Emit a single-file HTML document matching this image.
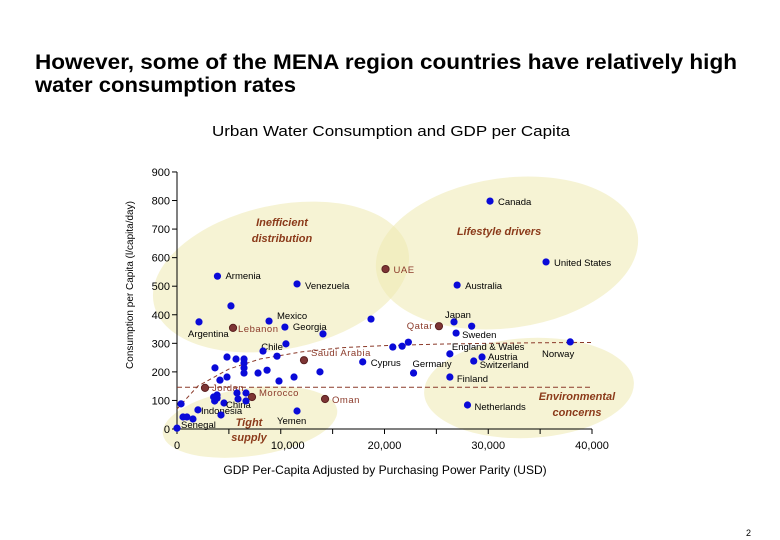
<!DOCTYPE html>
<html><head><meta charset="utf-8">
<style>
body{margin:0;background:#fff;}
svg{display:block;font-family:"Liberation Sans",Arial,sans-serif;}
</style></head>
<body>
<svg id="chart" width="780" height="540" viewBox="0 0 780 540">
<text x="35" y="69" font-size="21" font-weight="bold" textLength="702" lengthAdjust="spacingAndGlyphs">However, some of the MENA region countries have relatively high</text>
<text x="35" y="92" font-size="21" font-weight="bold" textLength="261" lengthAdjust="spacingAndGlyphs">water consumption rates</text>
<text x="212" y="136" font-size="15" textLength="358" lengthAdjust="spacingAndGlyphs">Urban Water Consumption and GDP per Capita</text>
<g id="zones"></g>
<g id="axes"></g>
<g id="marks"></g>
<text x="746" y="536" font-size="9">2</text>
</svg>
<script>
const names=["Canada","United States","Australia","UAE","Japan","","Qatar","Sweden","Norway","England & Wales","Austria","Switzerland","Finland","Netherlands","Germany","Cyprus","","","","","Armenia","Venezuela","","Argentina","Mexico","Lebanon","Georgia","","Chile","","","Saudi Arabia","","","","","","","","","","","","","","Jordan","Morocco","Oman","","","","","","","","","China","Indonesia","","","","","","","Yemen","Senegal"];
const gdp=[30170,35570,27000,20100,26700,28400,25250,26900,37900,26300,29400,28600,26300,28000,22800,17900,20800,21700,22300,18700,3900,11570,5200,2120,8870,5400,10400,14070,10500,8290,9640,12240,4820,5690,6460,6460,6460,6460,3660,7810,8680,13780,9830,11280,4820,2700,7230,14270,4140,6650,5780,5880,3860,3530,3630,3860,4530,2020,6650,4240,390,580,960,1540,11570,0];
const water=[798,585,504,560,375,360,360,336,305,263,252,238,182,84,196,235,287,290,304,385,535,508,431,375,378,354,357,333,298,273,255,241,252,245,245,231,214,196,214,196,206,200,168,182,182,144,112,105,171,126,126,105,119,112,98,108,91,67,98,49,88,42,42,35,63,3];
const mena=["UAE","Qatar","Lebanon","Saudi Arabia","Jordan","Morocco","Oman"];
const xTicks=[0,10000,20000,30000,40000];
const xTickLabels=["0","10,000","20,000","30,000","40,000"];
const yTicks=[0,100,200,300,400,500,600,700,800,900];
const threshold=146;
const trendX=[0,2000,5000,8000,12000,16000,20000,25000,30000,35000,40000];
const trendY=[70,150,210,245,270,285,292,297,300,302,303];

const lblOff={"Canada":[8,4,"start"],"United States":[8,4,"start"],"Australia":[8,4,"start"],"UAE":[8,4,"start"],"Japan":[-9,-4,"start"],"Qatar":[-6,3,"end"],"Sweden":[6,5,"start"],"Norway":[4,15,"end"],"England & Wales":[2,-4,"start"],"Austria":[6,3,"start"],"Switzerland":[6,7,"start"],"Finland":[7,5,"start"],"Netherlands":[7,5,"start"],"Germany":[-1,-6,"start"],"Cyprus":[8,4,"start"],"Armenia":[8,3,"start"],"Venezuela":[8,5,"start"],"Argentina":[-11,15,"start"],"Mexico":[8,-2,"start"],"Lebanon":[5,4,"start"],"Georgia":[8,3,"start"],"Chile":[-3,6,"end"],"Saudi Arabia":[7,-4,"start"],"Jordan":[7,3,"start"],"Morocco":[7,-1,"start"],"Oman":[7,4,"start"],"Indonesia":[3,4,"start"],"China":[2,5,"start"],"Yemen":[-20,13,"start"],"Senegal":[4,0,"start"]};

const X=v=>177+v*0.010375, Y=v=>429-v*0.2856;
const NS="http://www.w3.org/2000/svg";
function mk(tag,attrs,parent,txt){const e=document.createElementNS(NS,tag);for(const k in attrs)e.setAttribute(k,attrs[k]);if(txt!==undefined)e.textContent=txt;parent.appendChild(e);return e;}
const zones=document.getElementById('zones'),axes=document.getElementById('axes'),marks=document.getElementById('marks');

const zoneDefs=[["inefficient-zone",281,277,130,72,-12],["lifestyle-zone",507,253,132,75,-8],["environmental-zone",529,388,105,50,-3],["tight-supply-zone",250,422,88,34,-8]];
zoneDefs.forEach(z=>{const e=mk('ellipse',{cx:z[1],cy:z[2],rx:z[3],ry:z[4],transform:`rotate(${z[5]} ${z[1]} ${z[2]})`,fill:'#eeeab0','fill-opacity':0.55},zones);

});

let ax=mk('line',{x1:177,y1:172,x2:177,y2:429,stroke:'#000'},axes);


ax=mk('line',{x1:177,y1:429,x2:592,y2:429,stroke:'#000'},axes);


yTicks.forEach(t=>{mk('line',{x1:172,y1:Y(t),x2:177,y2:Y(t),stroke:'#000'},axes);
const l=mk('text',{x:170,y:Y(t)+4,'font-size':11,'text-anchor':'end'},axes,String(t));

});
xTicks.forEach((t,i)=>{mk('line',{x1:X(t),y1:429,x2:X(t),y2:434,stroke:'#000'},axes);
if(i<xTicks.length-1)mk('line',{x1:X(t+5000),y1:429,x2:X(t+5000),y2:434,stroke:'#000'},axes);
const l=mk('text',{x:X(t)+(i==1?7:0),y:449,'font-size':11,'text-anchor':'middle'},axes,xTickLabels[i]);

});
let at=mk('text',{x:385,y:474,'font-size':12,'text-anchor':'middle'},axes,'GDP Per-Capita Adjusted by Purchasing Power Parity (USD)');


at=mk('text',{x:133,y:285,'font-size':10,'text-anchor':'middle',transform:'rotate(-90 133 285)'},axes,'Consumption per Capita (l/capita/day)');



const th=mk('line',{x1:177,y1:Y(threshold),x2:592,y2:Y(threshold),stroke:'#8b3a2a','stroke-dasharray':'5,3'},marks);


let d='';trendX.forEach((x,i)=>{d+=(i?'L':'M')+X(x)+','+Y(trendY[i]);});
const tr=mk('path',{d:d,fill:'none',stroke:'#8b3a2a','stroke-dasharray':'4,3'},marks);



gdp.forEach((g,i)=>{const n=names[i]||'';const red=mena.includes(n);
const c=mk('circle',{cx:X(g),cy:Y(water[i]),r:3.6,fill:red?'#7e3535':'#0a0ad8',stroke:red?'#5a2020':'none'},marks);


if(n&&lblOff[n]){const o=lblOff[n];
const t=mk('text',{x:X(g)+o[0],y:Y(water[i])+o[1],'font-size':9.5,'text-anchor':o[2],fill:red?'#8b3a2a':'#000','letter-spacing':red?'0.5':'0'},marks,n);

}});

[["Inefficient",282,226,"inefficient-label"],["distribution",282,242,"inefficient-label-2"],["Lifestyle drivers",499,235,"lifestyle-label"],["Environmental",577,400,"environmental-label"],["concerns",577,416,"environmental-label-2"],["Tight",249,426,"tight-supply-label"],["supply",249,441,"tight-supply-label-2"]].forEach(z=>{
const t=mk('text',{x:z[1],y:z[2],'font-size':11,'font-weight':'bold','font-style':'italic','text-anchor':'middle',fill:'#8b3a1a'},marks,z[0]);

});
</script>
</body></html>
